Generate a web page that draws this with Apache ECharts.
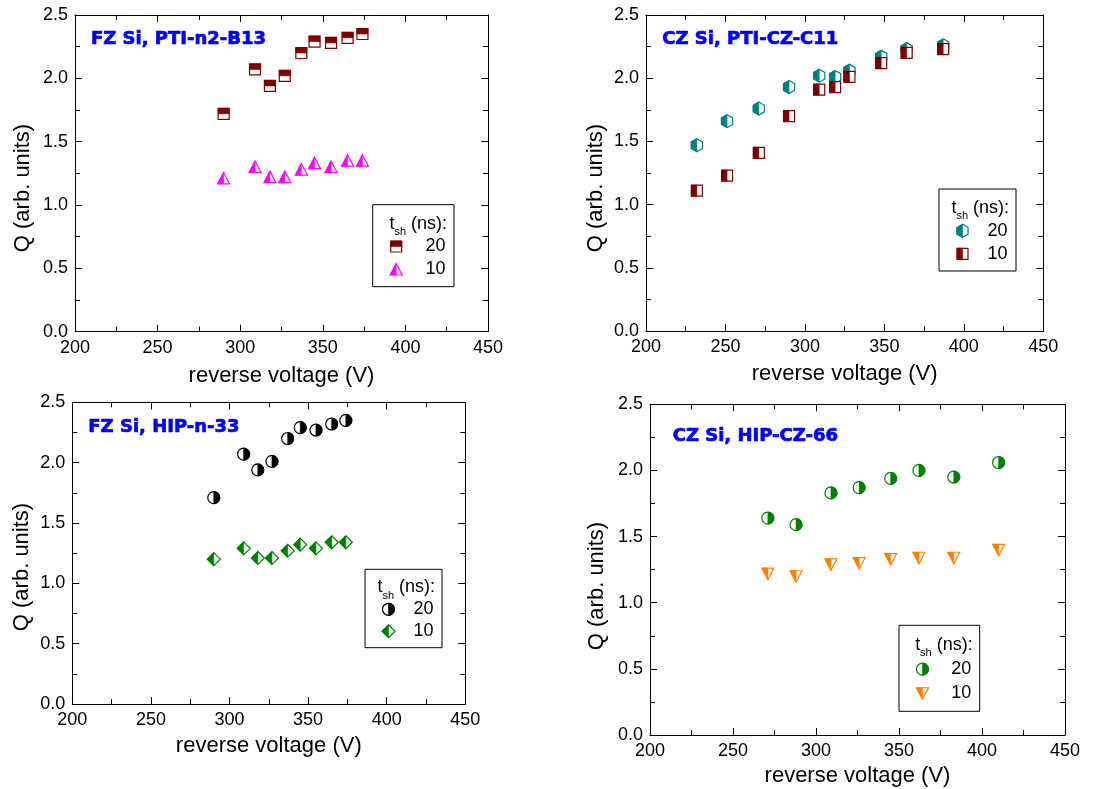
<!DOCTYPE html>
<html>
<head>
<meta charset="utf-8">
<script src="https://cdn.jsdelivr.net/npm/echarts@6/dist/echarts.min.js"></script>
<style>
  html, body { margin: 0; padding: 0; background: #ffffff; }
  #chart { width: 1103px; height: 789px; }
</style>
</head>
<body>
<div id="chart"></div>
<script>
// ---- data -------------------------------------------------------------
const xTicks = [200, 250, 300, 350, 400, 450];
const yTicks = [0.0, 0.5, 1.0, 1.5, 2.0, 2.5];

const panelTitles = ['FZ Si, PTI-n2-B13', 'CZ Si, PTI-CZ-C11', 'FZ Si, HIP-n-33', 'CZ Si, HIP-CZ-66'];
const legendHeader = ['t', 'sh', '(ns):'];
const legendLabels = ['20', '10'];
const xTitle = 'reverse voltage (V)';
const yTitle = 'Q (arb. units)';

// FZ Si, PTI-n2-B13
const voltFzPti = [290, 309, 318, 327, 337, 345, 355, 365, 374];
const qFzPti20 = [1.72, 2.07, 1.94, 2.02, 2.20, 2.29, 2.28, 2.32, 2.35];
const qFzPti10 = [1.21, 1.30, 1.22, 1.22, 1.28, 1.33, 1.30, 1.35, 1.35];

// CZ Si, PTI-CZ-C11
const voltCzPti = [232, 251, 271, 290, 309, 319, 328, 348, 364, 387];
const qCzPti20 = [1.47, 1.66, 1.76, 1.93, 2.02, 2.01, 2.06, 2.17, 2.23, 2.26];
const qCzPti10 = [1.11, 1.23, 1.41, 1.70, 1.91, 1.93, 2.01, 2.12, 2.20, 2.23];

// FZ Si, HIP-n-33
const voltFzHip = [290, 309, 318, 327, 337, 345, 355, 365, 374];
const qFzHip20 = [1.71, 2.07, 1.94, 2.01, 2.20, 2.29, 2.27, 2.32, 2.35];
const qFzHip10 = [1.20, 1.29, 1.21, 1.21, 1.27, 1.32, 1.29, 1.34, 1.34];

// CZ Si, HIP-CZ-66
const voltCzHip = [271, 288, 309, 326, 345, 362, 383, 410];
const qCzHip20 = [1.64, 1.59, 1.83, 1.87, 1.94, 2.00, 1.95, 2.06];
const qCzHip10 = [1.22, 1.20, 1.29, 1.30, 1.33, 1.34, 1.34, 1.40];

// ---- layout & style ---------------------------------------------------
const FONT = '"Liberation Sans", Arial, sans-serif';
const TITLE_FONT = '"DejaVu Sans", Verdana, sans-serif';

const panels = [
  { grid: { left: 75, top: 15, width: 413, height: 316.7 }, nameGap: 33,
    titlePos: [91, 39.3], yTitlePos: [23, 188],
    legend: { x: 372.7, y: 204.7, w: 81.3, h: 82 },
    sets: [ { x: voltFzPti, y: qFzPti20, kind: 'squareTop', color: '#800000' },
            { x: voltFzPti, y: qFzPti10, kind: 'triUpLeft', color: '#ff00ff' } ] },
  { grid: { left: 646, top: 15, width: 397.3, height: 316 }, nameGap: 32,
    titlePos: [662.3, 39.3], yTitlePos: [596, 188],
    legend: { x: 939, y: 189, w: 77, h: 82 },
    sets: [ { x: voltCzPti, y: qCzPti20, kind: 'hexLeft', color: '#008080' },
            { x: voltCzPti, y: qCzPti10, kind: 'squareLeft', color: '#800000' } ] },
  { grid: { left: 72.3, top: 402.3, width: 393, height: 301.7 }, nameGap: 31,
    titlePos: [88.3, 427.3], yTitlePos: [22, 567],
    legend: { x: 365, y: 569.3, w: 77, h: 78.4 },
    sets: [ { x: voltFzHip, y: qFzHip20, kind: 'circleRight', color: '#000000' },
            { x: voltFzHip, y: qFzHip10, kind: 'diamondLeft', color: '#008000' } ] },
  { grid: { left: 650, top: 404.3, width: 415, height: 330.7 }, nameGap: 30,
    titlePos: [672.7, 436.7], yTitlePos: [597, 586],
    legend: { x: 899, y: 625.3, w: 80.7, h: 86 },
    sets: [ { x: voltCzHip, y: qCzHip20, kind: 'circleRight', color: '#008000' },
            { x: voltCzHip, y: qCzHip10, kind: 'triDownLeft', color: '#ff8000' } ] }
];

// Half-filled symbol: white body with coloured outline, one half solid.
function markerShapes(kind, cx, cy, color) {
  const outline = { fill: '#ffffff', stroke: color, lineWidth: 1.2 };
  const solid = { fill: color, stroke: color, lineWidth: 0.6 };
  const poly = (pts, style) => ({ type: 'polygon', shape: { points: pts.map(p => [cx + p[0], cy + p[1]]) }, style });
  switch (kind) {
    case 'squareTop': {
      const h = 5.5;
      return [
        { type: 'rect', shape: { x: cx - h, y: cy - h, width: 2 * h, height: 2 * h }, style: outline },
        { type: 'rect', shape: { x: cx - h, y: cy - h, width: 2 * h, height: h }, style: solid }
      ];
    }
    case 'squareLeft': {
      const h = 5.5;
      return [
        { type: 'rect', shape: { x: cx - h, y: cy - h, width: 2 * h, height: 2 * h }, style: outline },
        { type: 'rect', shape: { x: cx - h, y: cy - h, width: h, height: 2 * h }, style: solid }
      ];
    }
    case 'triUpLeft':
      return [
        poly([[0, -6], [6, 5.5], [-6, 5.5]], outline),
        poly([[0, -6], [0, 5.5], [-6, 5.5]], solid)
      ];
    case 'triDownLeft':
      return [
        poly([[-6, -5.5], [6, -5.5], [0, 6]], outline),
        poly([[-6, -5.5], [0, -5.5], [0, 6]], solid)
      ];
    case 'hexLeft': {
      const r = 6.5, w = 5.6;
      return [
        poly([[0, -r], [w, -r / 2], [w, r / 2], [0, r], [-w, r / 2], [-w, -r / 2]], outline),
        poly([[0, -r], [0, r], [-w, r / 2], [-w, -r / 2]], solid)
      ];
    }
    case 'diamondLeft': {
      const r = 6.5;
      return [
        poly([[0, -r], [r, 0], [0, r], [-r, 0]], outline),
        poly([[0, -r], [0, r], [-r, 0]], solid)
      ];
    }
    case 'circleRight': {
      const r = 6;
      return [
        { type: 'circle', shape: { cx, cy, r }, style: outline },
        { type: 'sector', shape: { cx, cy, r: r, r0: 0, startAngle: -Math.PI / 2, endAngle: Math.PI / 2, clockwise: true }, style: solid }
      ];
    }
  }
  return [];
}

function valueAxis(ticks, extra) {
  return Object.assign({
    type: 'value',
    min: ticks[0],
    max: ticks[ticks.length - 1],
    interval: ticks[1] - ticks[0],
    splitLine: { show: false },
    axisLine: { show: true, onZero: false, lineStyle: { color: '#000', width: 1 } },
    axisTick: { show: true, inside: true, length: 7, lineStyle: { color: '#000', width: 1 } },
    minorTick: { show: true, splitNumber: 2, length: 5, lineStyle: { color: '#000', width: 1 } },
    minorSplitLine: { show: false }
  }, extra);
}

const grids = [], xAxes = [], yAxes = [], series = [], graphics = [];

panels.forEach((p, i) => {
  grids.push(Object.assign({ containLabel: false }, p.grid));

  xAxes.push(valueAxis(xTicks, {
    gridIndex: i, position: 'bottom',
    axisLabel: { show: true, color: '#000', fontSize: 18, fontFamily: FONT, margin: 7 },
    name: xTitle, nameLocation: 'middle', nameGap: p.nameGap,
    nameTextStyle: { color: '#000', fontSize: 22, fontFamily: FONT }
  }));
  xAxes.push(valueAxis(xTicks, { gridIndex: i, position: 'top', axisLabel: { show: false } }));

  yAxes.push(valueAxis(yTicks, {
    gridIndex: i, position: 'left',
    axisLabel: { show: true, color: '#000', fontSize: 18, fontFamily: FONT, margin: 7,
                 formatter: v => v.toFixed(1) }
  }));
  yAxes.push(valueAxis(yTicks, { gridIndex: i, position: 'right', axisLabel: { show: false } }));

  p.sets.forEach((s, k) => {
    series.push({
      type: 'custom',
      name: panelTitles[i] + ' ' + legendLabels[k],
      coordinateSystem: 'cartesian2d',
      xAxisIndex: 2 * i,
      yAxisIndex: 2 * i,
      z: 10 + k,
      clip: false,
      data: s.x.map((v, j) => [v, s.y[j]]),
      renderItem: (params, api) => {
        const pt = api.coord([api.value(0), api.value(1)]);
        return { type: 'group', children: markerShapes(s.kind, pt[0], pt[1], s.color) };
      }
    });
  });

  // panel caption (heavy blue lettering)
  graphics.push({
    type: 'text', x: p.titlePos[0], y: p.titlePos[1], silent: true,
    style: { text: panelTitles[i], fill: '#0000ff', stroke: '#0000ff', lineWidth: 0.7,
             font: 'bold 18px ' + TITLE_FONT,
             align: 'left', verticalAlign: 'middle', textAlign: 'left', textVerticalAlign: 'middle' }
  });

  // vertical axis title
  graphics.push({
    type: 'text', x: p.yTitlePos[0], y: p.yTitlePos[1], rotation: Math.PI / 2, silent: true,
    style: { text: yTitle, fill: '#000', font: '22px ' + FONT,
             align: 'center', verticalAlign: 'middle', textAlign: 'center', textVerticalAlign: 'middle' }
  });

  // legend box
  const L = p.legend;
  const R = L.x + L.w;
  const hy = L.y + 0.232 * L.h, r1 = L.y + 0.51 * L.h, r2 = L.y + 0.79 * L.h;
  const nsRight = R - 7;
  const children = [
    { type: 'rect', shape: { x: L.x, y: L.y, width: L.w, height: L.h },
      style: { fill: '#ffffff', stroke: '#000', lineWidth: 1 } },
    { type: 'text', x: nsRight, y: hy,
      style: { text: legendHeader[2], fill: '#000', font: '18px ' + FONT,
               align: 'right', verticalAlign: 'middle', textAlign: 'right', textVerticalAlign: 'middle' } },
    { type: 'text', x: nsRight - 41, y: hy + 8,
      style: { text: legendHeader[1], fill: '#000', font: '11px ' + FONT,
               align: 'right', verticalAlign: 'middle', textAlign: 'right', textVerticalAlign: 'middle' } },
    { type: 'text', x: nsRight - 52.5, y: hy,
      style: { text: legendHeader[0], fill: '#000', font: '18px ' + FONT,
               align: 'right', verticalAlign: 'middle', textAlign: 'right', textVerticalAlign: 'middle' } }
  ];
  [r1, r2].forEach((ry, k) => {
    markerShapes(p.sets[k].kind, L.x + 23.5, ry, p.sets[k].color).forEach(el => children.push(el));
    children.push({ type: 'text', x: R - 8.5, y: ry,
      style: { text: legendLabels[k], fill: '#000', font: '18px ' + FONT,
               align: 'right', verticalAlign: 'middle', textAlign: 'right', textVerticalAlign: 'middle' } });
  });
  graphics.push({ type: 'group', silent: true, z: 100, children });
});

const chart = echarts.init(document.getElementById('chart'), null, { renderer: 'canvas' });
chart.setOption({
  backgroundColor: '#ffffff',
  animation: false,
  grid: grids,
  xAxis: xAxes,
  yAxis: yAxes,
  series: series,
  graphic: graphics
});
</script>
</body>
</html>
